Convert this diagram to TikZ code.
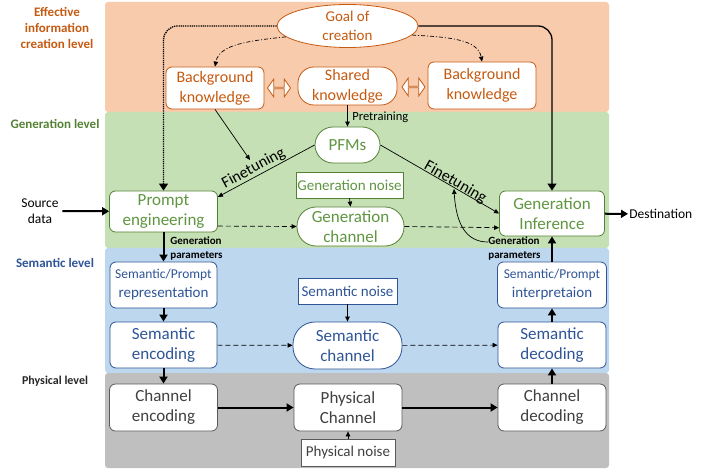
\documentclass[tikz,border=0pt]{standalone}
\usepackage{fontspec}
\setmainfont{Carlito}
\usetikzlibrary{arrows.meta,shapes.geometric,shapes.arrows}
\definecolor{orangeband}{HTML}{F8CBAD}
\definecolor{greenband}{HTML}{C5E0B4}
\definecolor{blueband}{HTML}{BDD7EE}
\definecolor{grayband}{HTML}{BFBFBF}
\definecolor{orangeline}{HTML}{C55A11}
\definecolor{greenline}{HTML}{548235}
\definecolor{greentext}{HTML}{5F9641}
\definecolor{blueline}{HTML}{2F5597}
\definecolor{grayline}{HTML}{595959}
\definecolor{graytext}{HTML}{404040}
\newcommand{\fsz}[2]{\fontsize{#1}{#2}\selectfont}
\begin{document}
\begin{tikzpicture}[x=1pt, y=-1pt, line width=0.8pt,
box/.style={draw, fill=white, align=center, inner sep=0pt, rounded corners=6pt},
orange node/.style={box, draw=orangeline, text=orangeline, font=\fsz{16}{20}},
green node/.style={box, draw=greenline, text=greentext, font=\fsz{17}{20}},
blue node/.style={box, draw=blueline, text=blueline, font=\fsz{17}{20}},
gray node/.style={box, draw=grayline, text=graytext, font=\fsz{17}{20}},
noise node/.style={sharp corners, font=\fsz{15}{18}},
swap node/.style={double arrow, draw=orangeline, fill=white, minimum height=23pt, minimum width=18pt, double arrow head extend=5pt, double arrow tip angle=110, inner sep=0pt},
level label/.style={font=\fsz{13}{16}\bfseries, align=center},
small label/.style={font=\fsz{11}{14}\bfseries, align=left, anchor=west, inner sep=0pt},
thin arrow/.style={-{Triangle[length=5pt,width=4.5pt]}, line width=0.7pt},
thick arrow/.style={-{Triangle[length=7pt,width=8pt]}, line width=2pt},
dashed arrow/.style={thin arrow, dash pattern=on 5pt off 3pt},
dashdot arrow/.style={thin arrow, dash pattern=on 4pt off 2pt on 1pt off 2pt},
goal arrow/.style={-{Triangle[length=7pt,width=9pt]}, line width=1.3pt, rounded corners=14pt}]
\useasboundingbox (0,0) rectangle (712,470);
% levels
\fill[orangeband, rounded corners=3pt] (105,2) rectangle (609,112);
\fill[greenband, rounded corners=3pt] (105,112) rectangle (609,248);
\fill[blueband, rounded corners=3pt] (105,248) rectangle (609,373);
\fill[grayband, rounded corners=3pt] (105,373) rectangle (609,468);
\node[level label, text=orangeline] (lv1) at (57,28) {Effective\\information\\creation level};
\node[level label, text=greenline] (lv2) at (55,124) {Generation level};
\node[level label, text=blueline] (lv3) at (55,263) {Semantic level};
\node[level label, font=\fsz{12}{14}\bfseries, text=black!85] (lv4) at (55,381) {Physical level};
% effective information creation level
\node[orange node, ellipse, minimum width=141pt, minimum height=43pt, font=\fsz{15}{19}] (goal) at (347.5,26) {Goal of\\creation};
\node[orange node, minimum width=98pt, minimum height=42pt] (bk1) at (215,88) {Background\\knowledge};
\node[orange node, rounded corners=16pt, minimum width=99pt, minimum height=38pt] (shared) at (347.5,86) {Shared\\knowledge};
\node[orange node, minimum width=108pt, minimum height=47pt] (bk2) at (482,85.5) {Background\\knowledge};
\node[swap node] (da1) at (279,88) {};
\node[swap node] (da2) at (413.5,87) {};
% generation level
\node[green node, rounded corners=18pt, minimum width=65pt, minimum height=36pt] (pfm) at (347.5,145) {PFMs};
\node[green node, noise node, minimum width=107pt, minimum height=26pt] (gnoise) at (349.5,185) {Generation noise};
\node[green node, rounded corners=19pt, minimum width=107pt, minimum height=39pt] (gchan) at (350.5,226.5) {Generation\\channel};
\node[green node, minimum width=108pt, minimum height=41pt] (prompt) at (163.5,211.5) {Prompt\\engineering};
\node[green node, minimum width=105pt, minimum height=45pt] (ginf) at (552,213.5) {Generation\\Inference};
% semantic level
\node[blue node, font=\fsz{15}{19}, minimum width=107pt, minimum height=46pt] (rep) at (163.5,285) {{\fsz{13.5}{19}Semantic/Prompt}\\representation};
\node[blue node, minimum width=107pt, minimum height=46pt] (senc) at (163.5,345) {Semantic\\encoding};
\node[blue node, noise node, minimum width=99pt, minimum height=26pt] (snoise) at (347.5,291) {Semantic noise};
\node[blue node, rounded corners=22pt, minimum width=109pt, minimum height=47pt] (schan) at (347.5,345.5) {Semantic\\channel};
\node[blue node, font=\fsz{15}{19}, minimum width=109pt, minimum height=46pt] (interp) at (552,285) {{\fsz{13.5}{19}Semantic/Prompt}\\interpretaion};
\node[blue node, minimum width=108pt, minimum height=46pt] (sdec) at (552,345) {Semantic\\decoding};
% physical level
\node[gray node, minimum width=108pt, minimum height=47pt] (cenc) at (163.5,407.5) {Channel\\encoding};
\node[gray node, minimum width=108pt, minimum height=47pt] (pchan) at (348,407.5) {Physical\\Channel};
\node[gray node, minimum width=108pt, minimum height=47pt] (cdec) at (552,407.5) {Channel\\decoding};
\node[gray node, noise node, minimum width=94pt, minimum height=27pt] (pnoise) at (348,452.5) {Physical noise};
% outside texts
\node[font=\fsz{13.5}{15.5}, align=center] (src) at (40,211) {Source\\data};
\node[font=\fsz{13.5}{16}, anchor=west, inner sep=1pt] (dst) at (628,214) {Destination};
\node[font=\fsz{12.5}{15}, anchor=west, inner sep=1pt] (pre) at (351,117) {Pretraining};
\node[small label] (gp1) at (170,248) {Generation\\parameters};
\node[small label] (gp2) at (488,248) {Generation\\parameters};
\coordinate (ft1) at (250,160);
\coordinate (ft2) at (454,189);

\draw [goal arrow, dash pattern=on 1.3pt off 0.9pt] (goal.west) -| (prompt.north);
\draw [goal arrow] (goal.east) -| (ginf.north);
\draw [dashdot arrow] (goal.190) .. controls +(-38,4) and +(4,-22) .. (bk1.north);
\draw [dashdot arrow] (goal.-8) .. controls +(38,2) and +(-4,-22) .. (bk2.north);
\draw [thin arrow] (shared.south) -- (pfm.north);
\draw [thin arrow] (bk1.south) -- (ft1);
\draw [thin arrow] (pfm.west) -- node[sloped, above, pos=0.59, inner sep=1pt, font=\fsz{16}{18}] {Finetuning} (prompt.15);
\draw [thin arrow] (pfm.east) -- node[sloped, above=-2pt, pos=0.61, inner sep=0pt, font=\fsz{16}{18}] {Finetuning} (ginf.west);
\draw [thin arrow] ([yshift=6pt]gp2.west) .. controls +(-22,0) and +(2,35) .. (ft2);
\draw [thin arrow] (gnoise.south) -- (gchan.north);
\draw [thin arrow] (snoise.south) -- (schan.north);
\draw [thin arrow] (pnoise.north) -- (pchan.south);
\draw [dashed arrow] (prompt.-15) -- (gchan.west);
\draw [dashed arrow] (gchan.east) -- (ginf.-165);
\draw [dashed arrow] (senc) -- (schan);
\draw [dashed arrow] (schan) -- (sdec);
\draw [thick arrow] (src) -- (prompt);
\draw [thick arrow] (ginf) -- (dst);
\draw [thick arrow] (prompt.south) -- (rep.north);
\draw [thick arrow] (rep.south) -- (senc.north);
\draw [thick arrow] (senc.south) -- (cenc.north);
\draw [thick arrow] (cenc) -- (pchan);
\draw [thick arrow] (pchan) -- (cdec);
\draw [thick arrow] (cdec.north) -- (sdec.south);
\draw [thick arrow] (sdec.north) -- (interp.south);
\draw [thick arrow] (interp.north) -- (ginf.south);
\end{tikzpicture}
\end{document}
